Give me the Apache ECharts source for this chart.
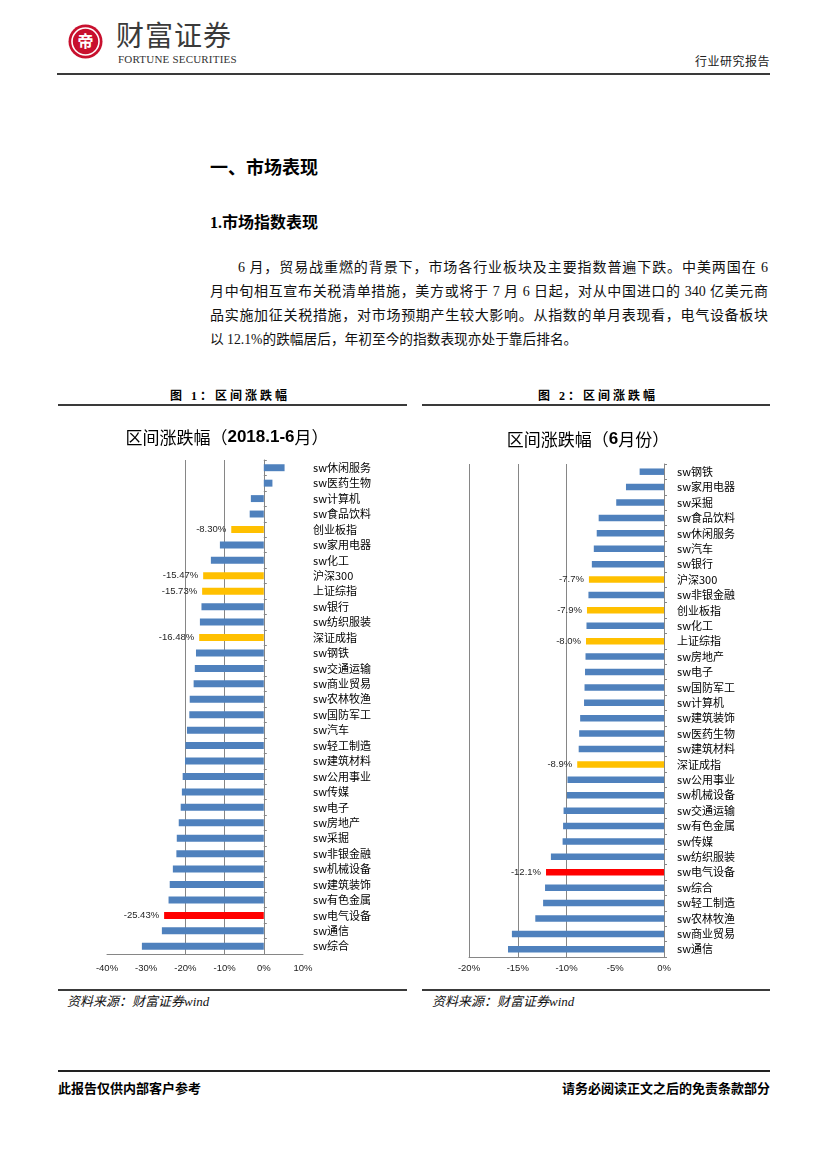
<!DOCTYPE html>
<html>
<head>
<meta charset="utf-8">
<script src="https://cdn.jsdelivr.net/npm/echarts@6/dist/echarts.min.js"></script>
<style>
  body { margin: 0; background: #fff; }
  #page { position: relative; width: 827px; height: 1170px; overflow: hidden; background: #fff;
          font-family: "Liberation Serif", "Noto Sans CJK SC", serif; color: #000; }
  .abs { position: absolute; white-space: nowrap; }
  .rule { position: absolute; background: #3a3a3a; }
  .jl { position: absolute; left: 210px; width: 558px; font-size: 14px; line-height: 24px; height: 24px;
        text-align: justify; text-align-last: justify; color: #111; }
  .cap { position: absolute; font-size: 12px; font-weight: bold; letter-spacing: 3px; line-height: 14px;
         font-family: "Liberation Serif", "Noto Sans CJK SC", serif; }
  .src { position: absolute; font-size: 13px; font-style: italic; line-height: 16px; color: #111; }
  .chart { position: absolute; }
</style>
</head>
<body>
<div id="page">
  <!-- header -->
  <svg class="abs" style="left:68px;top:24px" width="35" height="35" viewBox="0 0 35 35">
    <circle cx="17.5" cy="17.5" r="17" fill="#C8102E"/>
    <circle cx="17.5" cy="17.5" r="13.5" fill="none" stroke="#fff" stroke-width="1.6"/>
    <text x="17.5" y="23" text-anchor="middle" font-size="16" fill="#fff" font-family="Noto Sans CJK SC" font-weight="bold">帝</text>
  </svg>
  <div class="abs" style="left:116px;top:19px;font-size:28px;line-height:30px;font-family:'Noto Sans CJK SC';color:#3a3a3a;letter-spacing:1px;">财富证券</div>
  <div class="abs" style="left:118px;top:53px;font-size:11px;line-height:12px;font-family:'Liberation Serif';color:#333;letter-spacing:0.2px;">FORTUNE SECURITIES</div>
  <div class="abs" style="left:695px;top:54px;font-size:12px;line-height:14px;font-family:'Noto Sans CJK SC';color:#222;letter-spacing:0.5px;">行业研究报告</div>
  <div class="rule" style="left:57px;top:73px;width:713px;height:2px;"></div>

  <!-- headings & text -->
  <div class="abs" style="left:210px;top:156px;font-size:18px;line-height:20px;font-weight:bold;font-family:'Noto Sans CJK SC';">一、市场表现</div>
  <div class="abs" style="left:210px;top:213px;font-size:16px;line-height:20px;font-weight:bold;">1.市场指数表现</div>
  <div class="jl" style="top:256px;text-indent:28px;">6 月，贸易战重燃的背景下，市场各行业板块及主要指数普遍下跌。中美两国在 6</div>
  <div class="jl" style="top:280px;">月中旬相互宣布关税清单措施，美方或将于 7 月 6 日起，对从中国进口的 340 亿美元商</div>
  <div class="jl" style="top:304px;">品实施加征关税措施，对市场预期产生较大影响。从指数的单月表现看，电气设备板块</div>
  <div class="jl" style="top:328px;text-align:left;text-align-last:left;font-size:13.7px;">以 12.1%的跌幅居后，年初至今的指数表现亦处于靠后排名。</div>

  <!-- figure captions -->
  <div class="cap" style="left:170px;top:389px;">图 1：区间涨跌幅</div>
  <div class="cap" style="left:538px;top:389px;">图 2：区间涨跌幅</div>
  <div class="rule" style="left:58px;top:404px;width:349px;height:2px;"></div>
  <div class="rule" style="left:422px;top:404px;width:348px;height:2px;"></div>

  <div id="chart1" class="chart" style="left:58px;top:410px;width:338px;height:575px;"></div>
  <div id="chart2" class="chart" style="left:423px;top:410px;width:330px;height:575px;"></div>

  <div class="rule" style="left:58px;top:989px;width:349px;height:2px;"></div>
  <div class="rule" style="left:422px;top:989px;width:348px;height:2px;"></div>
  <div class="src" style="left:67px;top:994px;">资料来源：财富证券wind</div>
  <div class="src" style="left:432px;top:994px;">资料来源：财富证券wind</div>

  <!-- footer -->
  <div class="rule" style="left:58px;top:1070px;width:712px;height:2px;background:#222;"></div>
  <div class="abs" style="left:58px;top:1080px;font-size:13px;line-height:15px;font-weight:bold;font-family:'Noto Sans CJK SC';">此报告仅供内部客户参考</div>
  <div class="abs" style="right:57px;top:1080px;font-size:13px;line-height:15px;font-weight:bold;font-family:'Noto Sans CJK SC';">请务必阅读正文之后的免责条款部分</div>
</div>

<script>
// ---------- Chart 1: 区间涨跌幅（2018.1-6月） ----------
const categories1 = ['sw休闲服务','sw医药生物','sw计算机','sw食品饮料','创业板指','sw家用电器','sw化工','沪深300','上证综指','sw银行','sw纺织服装','深证成指','sw钢铁','sw交通运输','sw商业贸易','sw农林牧渔','sw国防军工','sw汽车','sw轻工制造','sw建筑材料','sw公用事业','sw传媒','sw电子','sw房地产','sw采掘','sw非银金融','sw机械设备','sw建筑装饰','sw有色金属','sw电气设备','sw通信','sw综合'];
const values1 = [5.3, 2.2, -3.3, -3.6, -8.30, -11.2, -13.5, -15.47, -15.73, -15.9, -16.3, -16.48, -17.3, -17.6, -17.9, -18.9, -19.0, -19.6, -20.0, -20.1, -20.7, -20.9, -21.2, -21.7, -22.2, -22.3, -23.2, -24.0, -24.3, -25.43, -26.0, -31.1];
const xTicks1 = [-40, -30, -20, -10, 0, 10];
const gridLines1 = [-20, -10];

// ---------- Chart 2: 区间涨跌幅（6月份） ----------
const categories2 = ['sw钢铁','sw家用电器','sw采掘','sw食品饮料','sw休闲服务','sw汽车','sw银行','沪深300','sw非银金融','创业板指','sw化工','上证综指','sw房地产','sw电子','sw国防军工','sw计算机','sw建筑装饰','sw医药生物','sw建筑材料','深证成指','sw公用事业','sw机械设备','sw交通运输','sw有色金属','sw传媒','sw纺织服装','sw电气设备','sw综合','sw轻工制造','sw农林牧渔','sw商业贸易','sw通信'];
const values2 = [-2.5, -3.9, -4.9, -6.7, -6.9, -7.2, -7.4, -7.7, -7.75, -7.9, -7.95, -8.0, -8.05, -8.1, -8.15, -8.2, -8.6, -8.7, -8.75, -8.9, -9.9, -9.95, -10.3, -10.35, -10.4, -11.6, -12.1, -12.2, -12.4, -13.2, -15.6, -16.0];
const xTicks2 = [-20, -15, -10, -5, 0];
const gridLines2 = [-20, -15, -10];

const BLUE = '#4F81BD', GOLD = '#FFC000', RED = '#FF0000', AXIS = '#868686';

function buildData(cats, vals) {
  return vals.map(function (v, i) {
    const c = cats[i];
    const isKey = c === 'sw电气设备';
    const isIndex = c.indexOf('sw') !== 0;
    return {
      value: v,
      itemStyle: { color: isKey ? RED : (isIndex ? GOLD : BLUE) },
      label: { show: isKey || isIndex }
    };
  });
}

function makeOption(cfg) {
  const ticks = cfg.ticks;
  return {
    animation: false,
    textStyle: { fontFamily: 'Noto Sans CJK SC' },
    title: {
      text: cfg.title,
      left: 'center',
      top: cfg.titleTop,
      textStyle: {
        fontFamily: 'Noto Sans CJK SC', fontSize: 17, fontWeight: 'normal', color: '#000',
        rich: { b: { fontFamily: 'Liberation Sans', fontWeight: 'bold', fontSize: 17, color: '#000' } }
      }
    },
    grid: Object.assign({ containLabel: false, outerBoundsMode: 'none' }, cfg.grid),
    xAxis: {
      type: 'value',
      min: ticks[0],
      max: ticks[ticks.length - 1],
      interval: ticks[1] - ticks[0],
      axisLine: { show: true, lineStyle: { color: AXIS, width: 1 } },
      axisTick: { show: false },
      splitLine: { show: false },
      axisLabel: { formatter: '{value}%', fontSize: 9.5, color: '#222', margin: cfg.xMargin, fontFamily: 'Liberation Sans' }
    },
    yAxis: {
      type: 'category',
      data: cfg.cats,
      inverse: true,
      position: 'right',
      axisLine: { show: true, onZero: true, lineStyle: { color: AXIS, width: 1 } },
      axisTick: { show: true, length: 3, lineStyle: { color: AXIS } },
      splitLine: { show: false },
      axisLabel: { interval: 0, margin: cfg.yMargin, align: 'left', fontSize: 11, color: '#000', fontFamily: 'Noto Sans CJK SC' }
    },
    series: [{
      type: 'bar',
      z: 10,
      barWidth: cfg.barWidth,
      data: buildData(cfg.cats, cfg.vals),
      label: {
        position: 'left', distance: 5, fontSize: 9.5, color: '#262626', fontFamily: 'Liberation Sans',
        formatter: function (p) { return p.value.toFixed(cfg.decimals) + '%'; }
      },
      markLine: {
        silent: true,
        z: 1,
        symbol: ['none', 'none'],
        label: { show: false },
        lineStyle: { color: AXIS, type: 'solid', width: 1 },
        emphasis: { disabled: true },
        data: cfg.gridLines.map(function (v) { return { xAxis: v }; })
      }
    }]
  };
}

const chart1 = echarts.init(document.getElementById('chart1'), null, { renderer: 'canvas' });
chart1.setOption(makeOption({
  title: '区间涨跌幅（{b|2018.1-6}月）', titleTop: 14,
  cats: categories1, vals: values1, ticks: xTicks1, gridLines: gridLines1,
  grid: { left: 49, top: 50, width: 196, height: 494 },
  xMargin: 9, yMargin: 10, barWidth: '45%', decimals: 2
}));

const chart2 = echarts.init(document.getElementById('chart2'), null, { renderer: 'canvas' });
chart2.setOption(makeOption({
  title: '区间涨跌幅（{b|6}月份）', titleTop: 16,
  cats: categories2, vals: values2, ticks: xTicks2, gridLines: gridLines2,
  grid: { left: 46, top: 54, width: 195, height: 493 },
  xMargin: 6, yMargin: 13, barWidth: '42%', decimals: 1
}));
</script>
</body>
</html>
